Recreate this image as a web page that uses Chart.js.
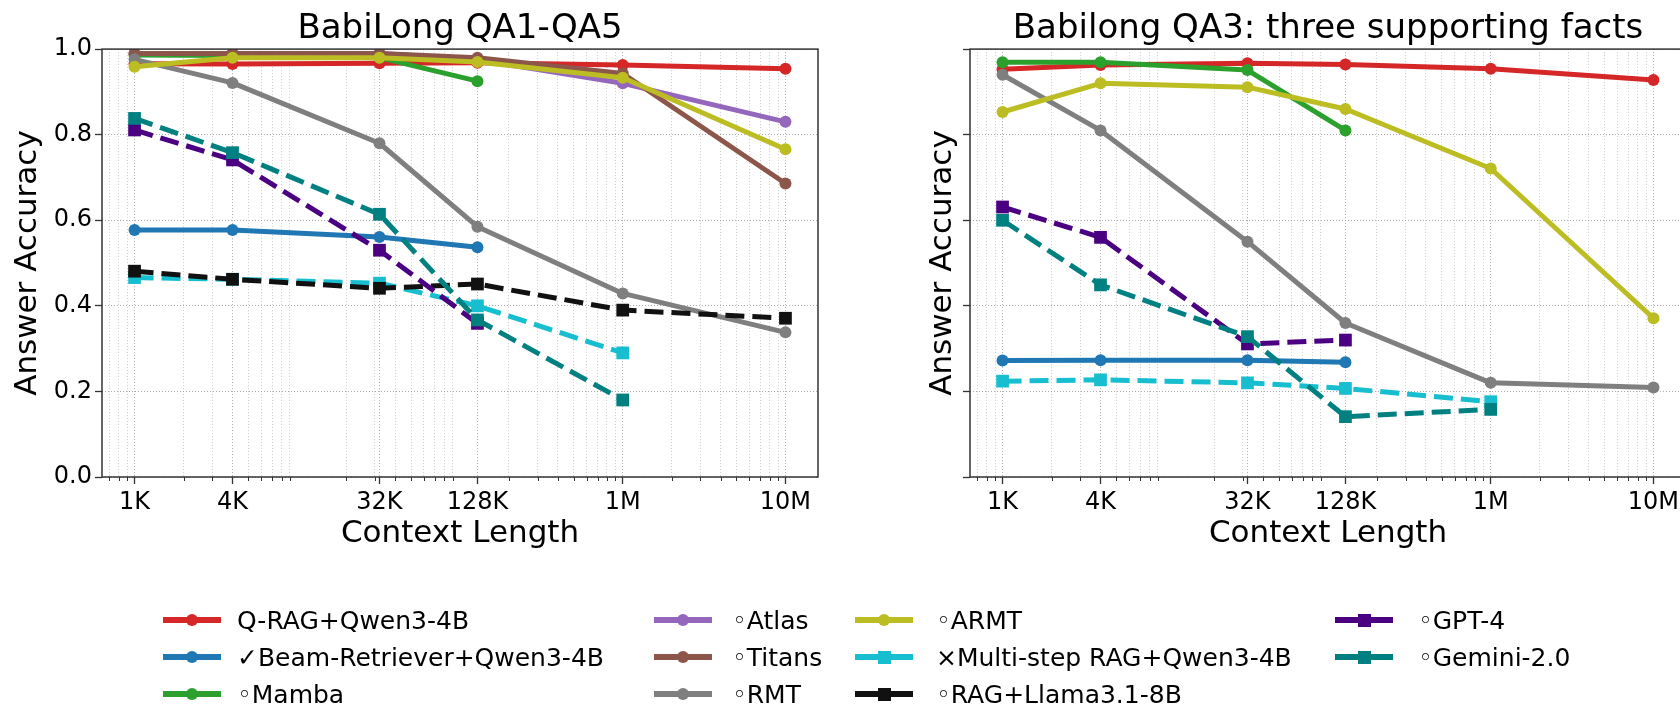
<!DOCTYPE html>
<html><head><meta charset="utf-8">
<script src="https://cdn.jsdelivr.net/npm/chart.js@4.4.0/dist/chart.umd.min.js"></script>
<style>
html,body{margin:0;padding:0;background:#fff;width:1680px;height:704px;overflow:hidden;position:relative;font-family:'DejaVu Sans',sans-serif;}
.box{position:absolute;top:0;}
#legend{position:absolute;left:0;top:0;width:1680px;height:704px;pointer-events:none;}
.ls{position:absolute;height:20px;}
.ln{position:absolute;left:0;right:0;top:50%;height:5.5px;margin-top:-2.75px;}
.mk{position:absolute;left:50%;top:50%;}
.lt{position:absolute;font-size:25px;line-height:1;white-space:nowrap;color:#000;transform:translateY(-50%);font-family:'DejaVu Sans',sans-serif;}
</style></head><body>
<div class="box" style="left:0"><canvas id="c1" width="840" height="560"></canvas></div>
<div class="box" style="left:868px"><canvas id="c2" width="840" height="560"></canvas></div>
<div id="legend"></div>
<script>
// ---------- DATA ----------
const contextLengths = [1000, 4000, 32000, 128000, 1000000, 10000000];
const contextTickLabels = ['1K', '4K', '32K', '128K', '1M', '10M'];

const seriesLabels = ['Q-RAG+Qwen3-4B', '\u2713Beam-Retriever+Qwen3-4B', '\u25E6Mamba', '\u25E6Atlas', '\u25E6Titans', '\u25E6RMT', '\u25E6ARMT', '\u00D7Multi-step RAG+Qwen3-4B', '\u25E6RAG+Llama3.1-8B', '\u25E6GPT-4', '\u25E6Gemini-2.0'];
const seriesColors = ['#d62728', '#1f77b4', '#2ca02c', '#9467bd', '#8c564b', '#7f7f7f', '#bcbd22', '#17becf', '#111111', '#4b0082', '#008080'];
const seriesDashed = [false, false, false, false, false, false, false, true, true, true, true];

// BabiLong QA1-QA5
const qa15_qrag      = [0.966, 0.965, 0.967, 0.968, 0.963, 0.954];
const qa15_beam      = [0.577, 0.577, 0.561, 0.537, null, null];
const qa15_mamba     = [0.986, 0.985, 0.980, 0.925, null, null];
const qa15_atlas     = [0.990, 0.990, 0.990, 0.975, 0.920, 0.830];
const qa15_titans    = [0.990, 0.990, 0.990, 0.980, 0.943, 0.686];
const qa15_rmt       = [0.976, 0.921, 0.780, 0.585, 0.429, 0.338];
const qa15_armt      = [0.959, 0.980, 0.980, 0.970, 0.933, 0.766];
const qa15_multistep = [0.466, 0.462, 0.453, 0.400, 0.290, null];
const qa15_ragllama  = [0.481, 0.462, 0.441, 0.451, 0.390, 0.371];
const qa15_gpt4      = [0.811, 0.741, 0.530, 0.359, null, null];
const qa15_gemini    = [0.838, 0.758, 0.614, 0.367, 0.180, null];

// Babilong QA3
const qa3_qrag      = [0.953, 0.963, 0.967, 0.964, 0.954, 0.928];
const qa3_beam      = [0.272, 0.273, 0.273, 0.268, null, null];
const qa3_mamba     = [0.969, 0.969, 0.951, 0.810, null, null];
const qa3_atlas     = [null, null, null, null, null, null];
const qa3_titans    = [null, null, null, null, null, null];
const qa3_rmt       = [0.940, 0.810, 0.550, 0.360, 0.220, 0.209];
const qa3_armt      = [0.853, 0.920, 0.911, 0.860, 0.721, 0.371];
const qa3_multistep = [0.224, 0.227, 0.220, 0.207, 0.176, null];
const qa3_ragllama  = [null, null, null, null, null, null];
const qa3_gpt4      = [0.631, 0.560, 0.311, 0.320, null, null];
const qa3_gemini    = [0.600, 0.449, 0.328, 0.141, 0.158, null];

const qa15Values = [qa15_qrag, qa15_beam, qa15_mamba, qa15_atlas, qa15_titans, qa15_rmt, qa15_armt, qa15_multistep, qa15_ragllama, qa15_gpt4, qa15_gemini];
const qa3Values = [qa3_qrag, qa3_beam, qa3_mamba, qa3_atlas, qa3_titans, qa3_rmt, qa3_armt, qa3_multistep, qa3_ragllama, qa3_gpt4, qa3_gemini];

// ---------- STYLE / SETUP ----------
Chart.defaults.font.family = "'DejaVu Sans', sans-serif";
Chart.defaults.color = '#000';

const xMin = Math.pow(10, 2.8), xMax = Math.pow(10, 7.2);
const minorTickValues = [];
for (let e = 2; e <= 7; e++) for (let m = 2; m <= 9; m++) {
  const v = m * Math.pow(10, e);
  if (v >= xMin && v <= xMax && contextLengths.indexOf(v) < 0) minorTickValues.push(v);
}
const allXTicks = contextLengths.concat(minorTickValues).sort((a, b) => a - b);
const isMajor = v => contextLengths.some(c => Math.abs(c - v) / c < 1e-6);

function buildDatasets(valuesList) {
  const N = valuesList.length;
  return valuesList.map((vals, i) => {
    const pts = [];
    vals.forEach((v, j) => { if (v !== null) pts.push({ x: contextLengths[j], y: v }); });
    const dashed = seriesDashed[i];
    return {
      label: seriesLabels[i],
      data: pts,
      borderColor: seriesColors[i],
      backgroundColor: seriesColors[i],
      borderWidth: 5,
      borderDash: dashed ? [19, 8] : [],
      borderJoinStyle: 'round',
      pointStyle: dashed ? 'rect' : 'circle',
      pointRadius: dashed ? 9 : 6,
      pointHoverRadius: dashed ? 9 : 6,
      pointBorderWidth: 0,
      pointBackgroundColor: seriesColors[i],
      tension: 0,
      order: N - i
    };
  });
}

const framePlugin = {
  id: 'frame',
  afterDatasetsDraw(chart) {
    const { ctx, chartArea: a, scales } = chart;
    ctx.save();
    ctx.strokeStyle = '#333';
    ctx.lineWidth = 1;
    minorTickValues.forEach(v => {
      const x = Math.round(scales.x.getPixelForValue(v)) + 0.5;
      ctx.beginPath(); ctx.moveTo(x, a.bottom); ctx.lineTo(x, a.bottom + 4); ctx.stroke();
    });
    ctx.lineWidth = 1.5;
    ctx.strokeRect(a.left, a.top, a.right - a.left, a.bottom - a.top);
    ctx.restore();
  }
};

function makeChart(id, title, valuesList, showYTicks, padLeft, yWidth) {
  return new Chart(document.getElementById(id), {
    type: 'line',
    data: { datasets: buildDatasets(valuesList) },
    options: {
      responsive: false,
      animation: false,
      layout: { padding: { left: padLeft, right: 22, top: 0, bottom: 0 } },
      plugins: {
        legend: { display: false },
        tooltip: { enabled: false },
        title: {
          display: true, text: title, fullSize: false, color: '#000',
          font: { size: 34, weight: 'normal', lineHeight: 1.15 },
          padding: { top: 10, bottom: 0 }
        }
      },
      scales: {
        x: {
          type: 'logarithmic', min: xMin, max: xMax,
          afterBuildTicks: s => { s.ticks = allXTicks.map(v => ({ value: v, major: false })); },
          afterFit: s => { s.height = 83; },
          ticks: {
            autoSkip: false, maxRotation: 0, minRotation: 0, padding: 4,
            font: { size: 24 }, color: '#000',
            callback: v => { const k = contextLengths.findIndex(c => Math.abs(c - v) / c < 1e-6); return k >= 0 ? contextTickLabels[k] : ''; }
          },
          grid: {
            color: c => (c.tick && isMajor(c.tick.value)) ? 'rgba(150,150,150,0.8)' : 'rgba(185,185,185,0.7)',
            lineWidth: 1,
            tickLength: 7,
            tickColor: c => (c.tick && isMajor(c.tick.value)) ? '#333' : 'rgba(0,0,0,0)',
            tickWidth: 1.3
          },
          border: { display: false, dash: [1, 2] },
          title: { display: true, text: 'Context Length', color: '#000', font: { size: 31 }, padding: { top: 0, bottom: 7 } }
        },
        y: {
          type: 'linear', min: 0, max: 1,
          afterFit: s => { s.width = yWidth; },
          ticks: { display: showYTicks, stepSize: 0.2, padding: 3, font: { size: 24 }, color: '#000', callback: v => Number(v).toFixed(1) },
          grid: { color: 'rgba(150,150,150,0.8)', lineWidth: 1, tickLength: 7, tickColor: '#333', tickWidth: 1.3 },
          border: { display: false, dash: [1, 2] },
          title: { display: true, text: 'Answer Accuracy', color: '#000', font: { size: 31 }, padding: { top: 9, bottom: 0 } }
        }
      }
    },
    plugins: [framePlugin]
  });
}

makeChart('c1', 'BabiLong QA1-QA5', qa15Values, true, 0, 102);
makeChart('c2', 'Babilong QA3: three supporting facts', qa3Values, false, 47, 55);

// ---------- LEGEND (shared, column-major) ----------
const legendCols = [{ s: 163, t: 237 }, { s: 654, t: 732 }, { s: 855, t: 936 }, { s: 1335, t: 1418 }];
const legendRows = [620, 657, 694];
const legend = document.getElementById('legend');
seriesLabels.forEach((lab, i) => {
  const col = legendCols[Math.floor(i / 3)], y = legendRows[i % 3];
  const s = document.createElement('div');
  s.className = 'ls';
  s.style.left = col.s + 'px'; s.style.width = '58px'; s.style.top = (y - 10) + 'px';
  const ln = document.createElement('div'); ln.className = 'ln'; ln.style.background = seriesColors[i]; s.appendChild(ln);
  const mk = document.createElement('div'); mk.className = 'mk';
  const sz = seriesDashed[i] ? 13 : 12;
  mk.style.width = sz + 'px'; mk.style.height = sz + 'px';
  mk.style.marginLeft = (-sz / 2) + 'px'; mk.style.marginTop = (-sz / 2) + 'px';
  mk.style.background = seriesColors[i];
  if (!seriesDashed[i]) mk.style.borderRadius = '50%';
  s.appendChild(mk);
  legend.appendChild(s);
  const t = document.createElement('div'); t.className = 'lt';
  t.style.left = col.t + 'px'; t.style.top = y + 'px';
  t.textContent = lab;
  legend.appendChild(t);
});
</script>
</body></html>
